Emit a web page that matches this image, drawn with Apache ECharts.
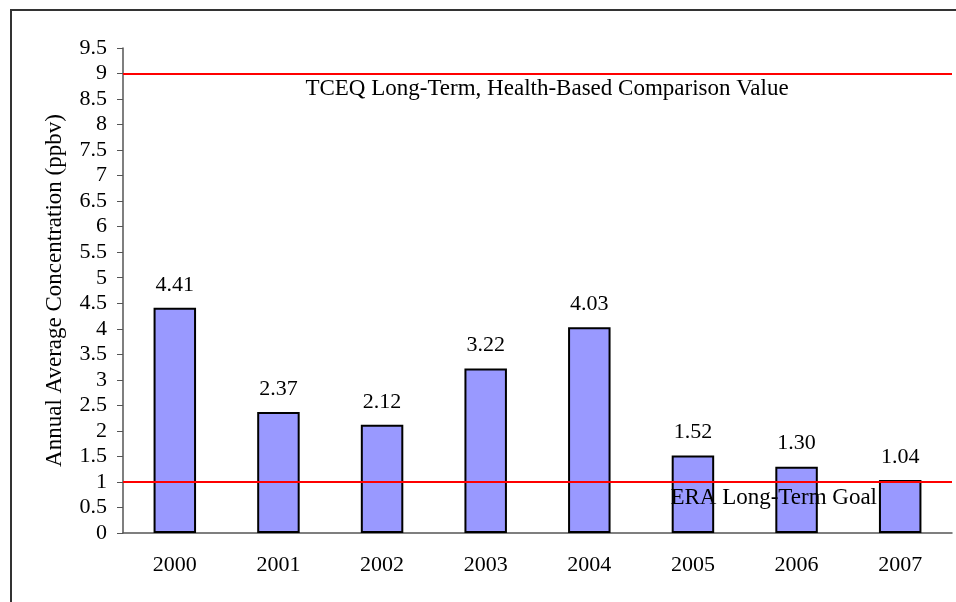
<!DOCTYPE html>
<html>
	<head>
		<meta charset="UTF-8">
		<title>Annual Average Concentration</title>
		<script src="https://cdn.jsdelivr.net/npm/echarts@6/dist/echarts.min.js" type="text/javascript"></script>
		<style type="text/css">
			html,body{
				margin:0;
				padding:0;
				background:#fff;
			}
			#frame{
				position:absolute;
				left:10px;
				top:9px;
				width:980px;
				height:620px;
				border:2px solid #333;
				pointer-events:none;
			}
		</style>
	</head>
	<body>
		<div id="chart1" style="width:956px; height:602px; position:relative;"></div>
		<div id="frame"></div>
	</body>
</html>
<script type="text/javascript">
	// data
	var years = ['2000', '2001', '2002', '2003', '2004', '2005', '2006', '2007'];
	var concentration = [4.41, 2.37, 2.12, 3.22, 4.03, 1.52, 1.30, 1.04];
	var comparisonValue = 9;   // TCEQ long-term
	var goalValue = 1;         // ERA long-term goal

	var chart1 = echarts.init(document.getElementById('chart1'));

	var font = 'Liberation Serif';
	var fs = 22;

	var option = {
		backgroundColor: '#fff',
		animation: false,
		grid: {
			left: 123,
			right: 4,
			top: 48,
			bottom: 69
		},
		xAxis: {
			type: 'category',
			data: years,
			axisLine: { lineStyle: { color: '#555', width: 1.5 } },
			axisTick: { length: 6, lineStyle: { color: '#555' } },
			axisLabel: {
				color: '#000',
				fontFamily: font,
				fontSize: fs,
				margin: 21
			}
		},
		yAxis: {
			type: 'value',
			min: 0,
			max: 9.5,
			interval: 0.5,
			name: 'Annual Average Concentration (ppbv)',
			nameLocation: 'middle',
			nameGap: 57,
			nameTextStyle: {
				color: '#000',
				fontFamily: font,
				fontSize: 23
			},
			axisLine: { show: true, lineStyle: { color: '#555', width: 1.5 } },
			axisTick: { show: true, length: 6, lineStyle: { color: '#555' } },
			splitLine: { show: false },
			axisLabel: {
				color: '#000',
				fontFamily: font,
				fontSize: fs,
				margin: 16
			}
		},
		series: [{
			type: 'bar',
			data: concentration,
			barWidth: '41%',
			itemStyle: {
				color: '#9999FF',
				borderColor: '#000',
				borderWidth: 2
			},
			label: {
				show: true,
				position: 'top',
				distance: 12,
				color: '#000',
				fontFamily: font,
				fontSize: fs,
				formatter: function(p) {
					return p.value.toFixed(2);
				}
			},
			markLine: {
				silent: true,
				symbol: ['none', 'none'],
				lineStyle: { color: '#FF0000', width: 2, type: 'solid' },
				data: [
					{
						yAxis: comparisonValue,
						label: {
							position: 'insideMiddleBottom',
							formatter: 'TCEQ Long-Term, Health-Based Comparison Value',
							color: '#000',
							fontFamily: font,
							fontSize: 23,
							padding: [0, 0, 0, 19],
							distance: 4
						}
					},
					{
						yAxis: goalValue,
						label: {
							position: 'insideEndBottom',
							formatter: 'ERA Long-Term Goal',
							color: '#000',
							fontFamily: font,
							fontSize: 23,
							distance: [75, 5]
						}
					}
				]
			}
		}]
	};

	chart1.setOption(option);
</script>
